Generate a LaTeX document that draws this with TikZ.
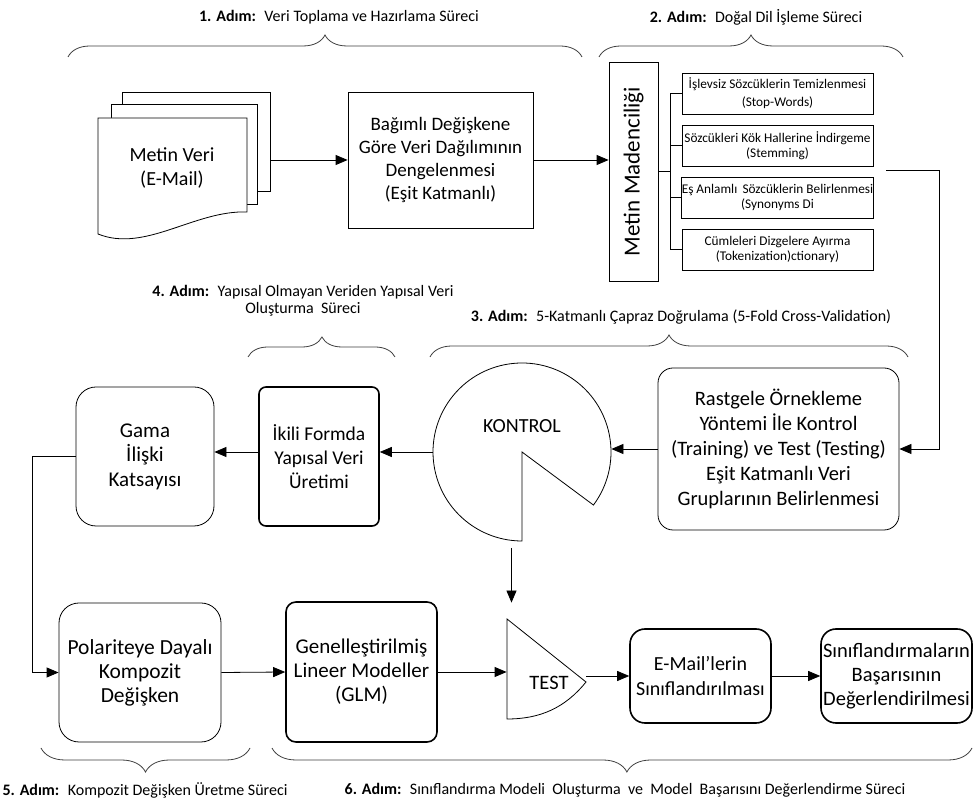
\documentclass[tikz,border=0pt]{standalone}
\usepackage{fontspec}
\setmainfont{Carlito}
\usetikzlibrary{arrows.meta,decorations.pathreplacing,calc}
\begin{document}
\begin{tikzpicture}[x=1pt,y=1pt,
  line width=0.8pt,
  arr/.style={-{Triangle[length=12pt,width=10pt]}, line width=0.8pt},
  small/.style={font=\fontsize{13.3}{14.5}\selectfont},
  steplbl/.style={font=\fontsize{16}{17}\selectfont, align=center, inner sep=0pt},
  sqbox/.style={draw, line width=0.8pt, fill=white, align=center, inner sep=0pt},
  rthin/.style={draw, line width=0.8pt, fill=white, align=center, inner sep=0pt, rounded corners=20pt},
  rthick/.style={draw, line width=1.6pt, fill=white, align=center, inner sep=0pt},
  brc/.style={draw=black!75, line width=0.8pt, decorate, decoration={brace, amplitude=#1}},
  brc/.default=22pt
]
\useasboundingbox[fill=white] (0,0) rectangle (974,808);

% ---- document stack ----
\draw[fill=white] (122,716) rectangle (270,617);
\draw[fill=white] (111,704) rectangle (257,604);
\draw[fill=white] (98,690) -- (247,690) -- (247,596) .. controls (195,598) and (145,555) .. (98,574) -- cycle;
\node[font=\fontsize{20}{24}\selectfont, align=center, inner sep=0pt] (doc) at (172,640) {Metin Veri\\(E-Mail)};
\node[minimum width=148pt, minimum height=99pt, inner sep=0pt] (docback) at (196,666.5) {};

% ---- step 1 ----
\node[sqbox, font=\fontsize{19}{23}\selectfont, minimum width=185pt, minimum height=136pt] (bag) at (440.5,648)
  {Bağımlı Değişkene\\Göre Veri Dağılımının\\Dengelenmesi\\(Eşit Katmanlı)};
\draw[arr] (docback.east |- bag.west) -- (bag.west);

% ---- step 2 ----
\node[sqbox, minimum width=49pt, minimum height=219pt] (mm) at (633.5,636.5) {};
\node[rotate=90, font=\fontsize{23}{26}\selectfont, inner sep=0pt] (mmt) at (mm) {Metin Madenciliği};
\draw[arr] (bag.east) -- (bag.east -| mm.west);

\node[sqbox, minimum width=191pt, minimum height=41pt, font=\fontsize{13.3}{18}\selectfont] (s1) at (777.5,714.5)
  {İşlevsiz Sözcüklerin Temizlenmesi\\(Stop-Words)};
\node[sqbox, small, minimum width=191pt, minimum height=41pt] (s2) at (777.5,662.5)
  {Sözcükleri Kök Hallerine İndirgeme\\(Stemming)};
\node[sqbox, small, minimum width=191pt, minimum height=41pt] (s3) at (777.5,610.5)
  {Eş Anlamlı\,\ Sözcüklerin Belirlenmesi\\(Synonyms Di};
\node[sqbox, small, minimum width=191pt, minimum height=41pt] (s4) at (777.5,558.5)
  {Cümleleri Dizgelere Ayırma\\(Tokenization)ctionary)};
\coordinate (tj) at (670,636.5);
\draw (mm.east) -- (tj);
\draw (tj |- s1.west) -- (tj |- s4.west);
\draw (tj |- s1.west) -- (s1.west);
\draw (tj |- s2.west) -- (s2.west);
\draw (tj |- s3.west) -- (s3.west);
\draw (tj |- s4.west) -- (s4.west);

% ---- step 3 ----
\node[rthin, rounded corners=15pt, minimum width=241pt, minimum height=162pt, font=\fontsize{20.5}{25}\selectfont] (rast) at (778.5,359)
  {Rastgele Örnekleme\\Yöntemi İle Kontrol\\(Training) ve Test (Testing)\\Eşit Katmanlı Veri\\Gruplarının Belirlenmesi};
\coordinate (nr) at (886,638);
\draw[arr] (nr) -- (939,638) |- (rast.east);

\node[circle, minimum size=178pt, inner sep=0pt] (kont) at (522,356) {};
\draw[fill=white] (kont.center) -- ++(-36.6:89) arc[start angle=-36.6, end angle=270, radius=89] -- cycle;
\node[font=\fontsize{20}{22}\selectfont, inner sep=0pt] (kontt) at (522,382) {KONTROL};
\draw[arr] (rast.west) -- (rast.west -| kont.east);

% ---- step 4 ----
\node[rthick, rounded corners=7pt, minimum width=120pt, minimum height=139pt, font=\fontsize{19.5}{24}\selectfont] (ikili) at (319,351.5)
  {İkili Formda\\Yapısal Veri\\Üretimi};
\node[rthin, minimum width=138pt, minimum height=139pt, font=\fontsize{21}{24.5}\selectfont] (gama) at (145,351.5)
  {Gama\\İlişki\\Katsayısı};
\draw[arr] (kont.west) -- (kont.west -| ikili.east);
\draw[arr] (kont.west -| ikili.west) -- (kont.west -| gama.east);

% ---- step 5 ----
\node[rthin, minimum width=162pt, minimum height=139pt, font=\fontsize{21.5}{24}\selectfont] (pola) at (140,135.5)
  {Polariteye Dayalı\\Kompozit\\Değişken};
\draw[arr] (gama.west) -- ++(-43,0) |- (pola.west);

% ---- step 6 ----
\node[rthick, rounded corners=10pt, minimum width=151pt, minimum height=140pt, font=\fontsize{21}{24}\selectfont] (glm) at (361.5,136)
  {Genelleştirilmiş\\Lineer Modeller\\(GLM)};
\draw[arr] (pola.east) -- (glm.west);

\node[minimum width=79pt, minimum height=100pt, inner sep=0pt] (test) at (546.5,139) {};
\draw[fill=white] (507,189) -- (586,126) .. controls (565,100) and (540,89) .. (507,89) -- cycle;
\coordinate (testtip) at (586,126);
\node[font=\fontsize{20.5}{22}\selectfont, inner sep=0pt] (testt) at (549,125) {TEST};
\draw[arr] (glm.east) -- (glm.east -| test.west);
\coordinate (kd) at (511.5,260);
\draw[arr, shorten >=16pt] (kd) -- (kd |- test.north);

\node[rthick, rounded corners=15pt, minimum width=141pt, minimum height=94pt, font=\fontsize{20}{25}\selectfont] (email) at (700.5,132)
  {E-Mail’lerin\\Sınıflandırılması};
\draw[arr] (email.west -| testtip) -- (email.west);
\node[rthick, rounded corners=15pt, minimum width=151pt, minimum height=94pt, font=\fontsize{20.5}{24}\selectfont] (sinif) at (896.5,132)
  {Sınıflandırmaların\\Başarısının\\Değerlendirilmesi};
\draw[arr] (email.east) -- (sinif.west);

% ---- braces ----
\draw[brc, decoration={aspect=0.5}] (68,751) -- (582,751);
\draw[brc, decoration={aspect=0.5}] (599,751) -- (903,751);
\draw[brc=20pt, decoration={aspect=0.503}] (248,451) -- (395,451);
\draw[brc, decoration={aspect=0.5}] (430,451) -- (908,451);
\draw[brc=24pt, decoration={aspect=0.5, mirror}] (41,60) -- (250,60);
\draw[brc=24pt, decoration={aspect=0.507, mirror}] (272,60) -- (972,60);

% ---- step labels ----
\node[steplbl] (l1) at (339,791) {\textbf{1. Adım:}~ Veri Toplama ve Hazırlama Süreci};
\node[steplbl] (l2) at (756,791) {\textbf{2. Adım:}~ Doğal Dil İşleme Süreci};
\node[steplbl] (l4) at (303,507) {\textbf{4. Adım:}~ Yapısal Olmayan Veriden Yapısal Veri\\Oluşturma~ Süreci};
\node[steplbl] (l3) at (681,491) {\textbf{3. Adım:}~ 5-Katmanlı Çapraz Doğrulama (5-Fold Cross-Validation)};
\node[steplbl] (l5) at (145,18) {\textbf{5. Adım:}~ Kompozit Değişken Üretme Süreci};
\node[steplbl] (l6) at (625,18) {\textbf{6. Adım:}~ Sınıflandırma Modeli~ Oluşturma~ ve~ Model~ Başarısını Değerlendirme Süreci};
\end{tikzpicture}
\end{document}
